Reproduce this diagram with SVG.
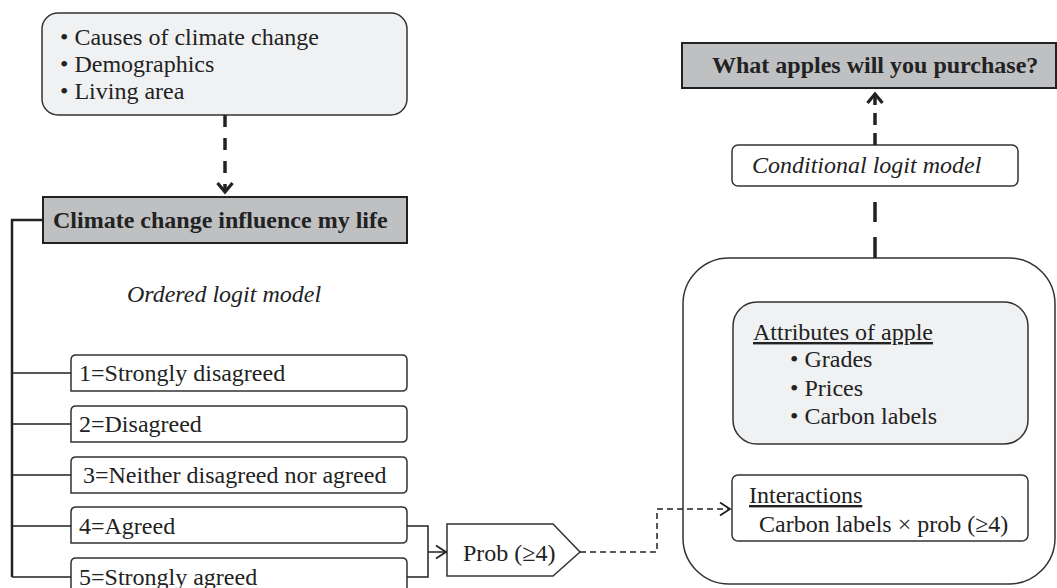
<svg xmlns="http://www.w3.org/2000/svg" width="1057" height="588" viewBox="0 0 1057 588">
<style>
text{font-family:"Liberation Serif","Times New Roman",serif;font-size:24px;fill:#222}
.b{font-weight:bold}
.i{font-style:italic}
.u{text-decoration:underline}
.light{fill:#f0f1f2;stroke:#333;stroke-width:1.5}
.gray{fill:#bfc0c2;stroke:#222;stroke-width:2}
.white{fill:#fff;stroke:#333;stroke-width:1.5}
.ln{fill:none;stroke:#222;stroke-width:1.5}
.thick{fill:none;stroke:#222;stroke-width:3.5}
</style>
<defs>
<marker id="ah" markerUnits="userSpaceOnUse" markerWidth="20" markerHeight="20" viewBox="-12 -10 14 20" refX="0" refY="0" orient="auto">
<path d="M-9,-7.5 L0,0 L-9,7.5" fill="none" stroke="#222" stroke-width="3.2"/>
</marker>
<marker id="at" markerUnits="userSpaceOnUse" markerWidth="16" markerHeight="16" viewBox="-12 -8 14 16" refX="0" refY="0" orient="auto">
<path d="M-10,-6.5 L0,0 L-10,6.5" fill="none" stroke="#222" stroke-width="1.8"/>
</marker>
</defs>

<g id="node-factors">
<rect class="light" x="42" y="13" width="365" height="102" rx="16"/>
<text x="60" y="45">• Causes of climate change</text>
<text x="60" y="72">• Demographics</text>
<text x="60" y="99">• Living area</text>
</g>

<g id="node-climate">
<rect class="gray" x="43" y="197" width="364" height="46"/>
<text class="b" x="53" y="228">Climate change influence my life</text>
</g>

<g id="label-ordered">
<text class="i" x="224" y="302" text-anchor="middle">Ordered logit model</text>
</g>

<g id="node-opt1">
<path class="white" d="M71,391 V360 Q71,355 76,355 H402 Q407,355 407,360 V386 Q407,391 402,391 Z"/>
<text x="79" y="381">1=Strongly disagreed</text>
</g>
<g id="node-opt2">
<path class="white" d="M71,442 V411 Q71,406 76,406 H402 Q407,406 407,411 V437 Q407,442 402,442 Z"/>
<text x="79" y="432">2=Disagreed</text>
</g>
<g id="node-opt3">
<path class="white" d="M71,493 V462 Q71,457 76,457 H402 Q407,457 407,462 V488 Q407,493 402,493 Z"/>
<text x="83" y="483">3=Neither disagreed nor agreed</text>
</g>
<g id="node-opt4">
<path class="white" d="M71,543 V512 Q71,507 76,507 H402 Q407,507 407,512 V538 Q407,543 402,543 Z"/>
<text x="79" y="534">4=Agreed</text>
</g>
<g id="node-opt5">
<path class="white" d="M71,595 V563 Q71,558 76,558 H402 Q407,558 407,563 V590 Q407,595 402,595 Z"/>
<text x="79" y="585">5=Strongly agreed</text>
</g>

<g id="node-prob">
<path class="white" stroke-width="1.8" d="M447,524 H553 L580,552 L553,576 H447 Z"/>
<text x="463" y="561">Prob (≥4)</text>
</g>

<g id="node-purchase">
<rect class="gray" x="682" y="43" width="374" height="45"/>
<text class="b" x="712" y="73">What apples will you purchase?</text>
</g>

<g id="node-conditional">
<rect class="white" x="732" y="145" width="286" height="41" rx="6"/>
<text class="i" x="752" y="173">Conditional logit model</text>
</g>

<g id="node-model">
<rect class="white" x="683" y="258" width="372" height="326" rx="46"/>
</g>

<g id="node-attributes">
<rect class="light" x="733" y="302" width="295" height="142" rx="24"/>
<text class="u" x="753" y="340">Attributes of apple</text>
<text x="790" y="367">• Grades</text>
<text x="790" y="396">• Prices</text>
<text x="790" y="424">• Carbon labels</text>
</g>

<g id="node-interactions">
<rect class="white" x="732" y="475" width="296" height="66" rx="6"/>
<text class="u" x="749" y="503">Interactions</text>
<text x="759" y="532">Carbon labels × prob (≥4)</text>
</g>

<g id="connectors">
<path class="thick" d="M225,115 V192" stroke-dasharray="12 11" marker-end="url(#ah)"/>
<path class="thick" d="M875,145 V94" stroke-dasharray="12 8" marker-end="url(#ah)"/>
<path class="thick" d="M875,258 V186" stroke-dasharray="21 15 20 16"/>
<path fill="none" stroke="#222" stroke-width="2.5" d="M43,220 H12 V577"/>
<path class="ln" d="M12,373 H71 M12,424 H71 M12,475 H71 M12,526 H71 M12,577 H71"/>
<path class="ln" stroke-width="2" d="M407,526 H428 V577 H407"/>
<path class="ln" stroke-width="2" d="M428,552 H446" marker-end="url(#at)"/>
<path class="ln" d="M580,552 H657 V509 H730" stroke-dasharray="6 4" marker-end="url(#at)"/>
</g>
</svg>
